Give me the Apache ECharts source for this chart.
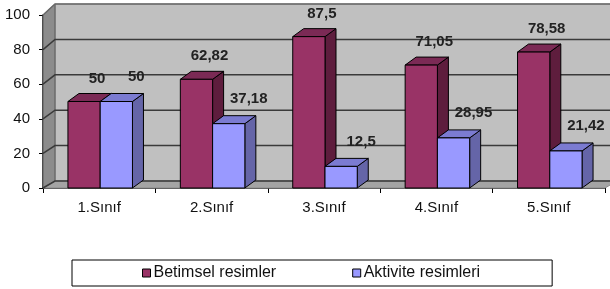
<!DOCTYPE html>
<html>
<head>
<meta charset="utf-8">
<script src="https://cdn.jsdelivr.net/npm/echarts@6/dist/echarts.min.js"></script>
<style>
html,body{margin:0;padding:0;background:#fff;}
#chart{width:610px;height:289px;}
</style>
</head>
<body>
<div id="chart"></div>
<script>
const categories = ['1.Sınıf', '2.Sınıf', '3.Sınıf', '4.Sınıf', '5.Sınıf'];
const seriesNames = ['Betimsel resimler', 'Aktivite resimleri'];
const betimsel = [50, 62.82, 87.5, 71.05, 78.58];
const aktivite = [50, 37.18, 12.5, 28.95, 21.42];
const yMin = 0, yMax = 100, yStep = 20;

const FONT = '"Liberation Sans", Arial, sans-serif';
const WALL_DX = 12;
function wallDy(v) { return -(7 + 4 * (v - yMin) / (yMax - yMin)); }
const BAR_DX = 11, BAR_DY = -8;
const BAR_FRAC = 0.287;

const palettes = [
  { front: '#993366', top: '#7b2a55', side: '#5e1d3d', labelDx: 13, labelUp: 15 },
  { front: '#9999ff', top: '#7b7bd1', side: '#6565a8', labelDx: 20, labelUp: 17 }
];

function fmt(v) { return String(v).replace('.', ','); }

function wallsRender(params, api) {
  const cs = params.coordSys;
  const x0 = cs.x, x1 = cs.x + cs.width;
  const yAt = v => api.coord([0, v])[1];
  const yTop = yAt(yMax), yBot = yAt(yMin);
  const children = [];
  children.push({ type: 'polygon', shape: { points: [
    [x0 + WALL_DX, yTop + wallDy(yMax)], [x1 + WALL_DX, yTop + wallDy(yMax)],
    [x1 + WALL_DX, yBot + wallDy(yMin)], [x0 + WALL_DX, yBot + wallDy(yMin)]
  ] }, style: { fill: '#c0c0c0', stroke: '#8a8a8a', lineWidth: 1 } });
  children.push({ type: 'polygon', shape: { points: [
    [x0, yTop], [x0 + WALL_DX, yTop + wallDy(yMax)],
    [x0 + WALL_DX, yBot + wallDy(yMin)], [x0, yBot]
  ] }, style: { fill: '#8c8c8c', stroke: '#5a5a5a', lineWidth: 1 } });
  children.push({ type: 'polygon', shape: { points: [
    [x0, yBot], [x0 + WALL_DX, yBot + wallDy(yMin)],
    [x1 + WALL_DX, yBot + wallDy(yMin)], [x1, yBot]
  ] }, style: { fill: '#a4a4a4', stroke: '#8a8a8a', lineWidth: 1 } });
  for (let v = yMin; v <= yMax; v += yStep) {
    const y = yAt(v);
    children.push({ type: 'polyline', shape: { points: [
      [x0, y], [x0 + WALL_DX, y + wallDy(v)], [x1 + WALL_DX, y + wallDy(v)]
    ] }, style: { fill: null, stroke: v === yMax ? '#6a6a6a' : '#3a3a3a', lineWidth: 1.5 } });
  }
  return { type: 'group', children: children };
}

function barRender(sIdx) {
  const pal = palettes[sIdx];
  return function (params, api) {
    const i = api.value(0), v = api.value(1);
    const band = api.size([1, 0])[0];
    const c = api.coord([i, v]);
    const base = api.coord([i, yMin])[1];
    const w = band * BAR_FRAC;
    const xa = sIdx === 0 ? c[0] + 1 - w : c[0] + 1;
    const xb = xa + w;
    const yt = c[1];
    return { type: 'group', children: [
      { type: 'polygon', shape: { points: [[xb, yt], [xb + BAR_DX, yt + BAR_DY], [xb + BAR_DX, base + BAR_DY], [xb, base]] },
        style: { fill: pal.side, stroke: '#000', lineWidth: 1 } },
      { type: 'polygon', shape: { points: [[xa, yt], [xa + BAR_DX, yt + BAR_DY], [xb + BAR_DX, yt + BAR_DY], [xb, yt]] },
        style: { fill: pal.top, stroke: '#000', lineWidth: 1 } },
      { type: 'rect', shape: { x: xa, y: yt, width: w, height: base - yt },
        style: { fill: pal.front, stroke: '#000', lineWidth: 1 } },
      { type: 'text', x: (xa + xb) / 2 + pal.labelDx, y: yt + BAR_DY - pal.labelUp,
        style: { text: fmt(v), fill: '#222', font: 'bold 15px ' + FONT, align: 'center', verticalAlign: 'middle' } }
    ] };
  };
}

const chart = echarts.init(document.getElementById('chart'), null, { renderer: 'canvas' });
chart.setOption({
  animation: false,
  backgroundColor: '#fff',
  grid: { left: 43, right: 5, top: 15, bottom: 101, containLabel: false },
  xAxis: {
    type: 'category', data: categories, boundaryGap: true,
    axisLine: { lineStyle: { color: '#000', width: 1.5 } },
    axisTick: { show: true, length: 5, lineStyle: { color: '#000' } },
    axisLabel: { color: '#111', fontSize: 15, fontFamily: FONT, margin: 12 },
    splitLine: { show: false }
  },
  yAxis: {
    type: 'value', min: yMin, max: yMax, interval: yStep,
    axisLine: { show: true, lineStyle: { color: '#000', width: 1.5 } },
    axisTick: { show: true, length: 4, lineStyle: { color: '#000' } },
    axisLabel: { color: '#111', fontSize: 15, fontFamily: FONT, margin: 13 },
    splitLine: { show: false }
  },
  legend: {
    data: seriesNames,
    left: 72, top: 260,
    icon: 'rect', itemWidth: 8, itemHeight: 8, itemGap: 76,
    itemStyle: { borderColor: '#000', borderWidth: 1 },
    padding: [5, 72, 5, 70],
    borderColor: '#000', borderWidth: 1,
    textStyle: { fontSize: 16, fontFamily: FONT, color: '#111', padding: [0, 0, 0, -2] }
  },
  series: [
    { type: 'custom', name: '_walls', silent: true, z: 1, renderItem: wallsRender, data: [[0, 0]] },
    { type: 'custom', name: seriesNames[0], z: 3, itemStyle: { color: palettes[0].front },
      renderItem: barRender(0), data: betimsel.map((v, i) => [i, v]) },
    { type: 'custom', name: seriesNames[1], z: 4, itemStyle: { color: palettes[1].front },
      renderItem: barRender(1), data: aktivite.map((v, i) => [i, v]) }
  ]
});
</script>
</body>
</html>
